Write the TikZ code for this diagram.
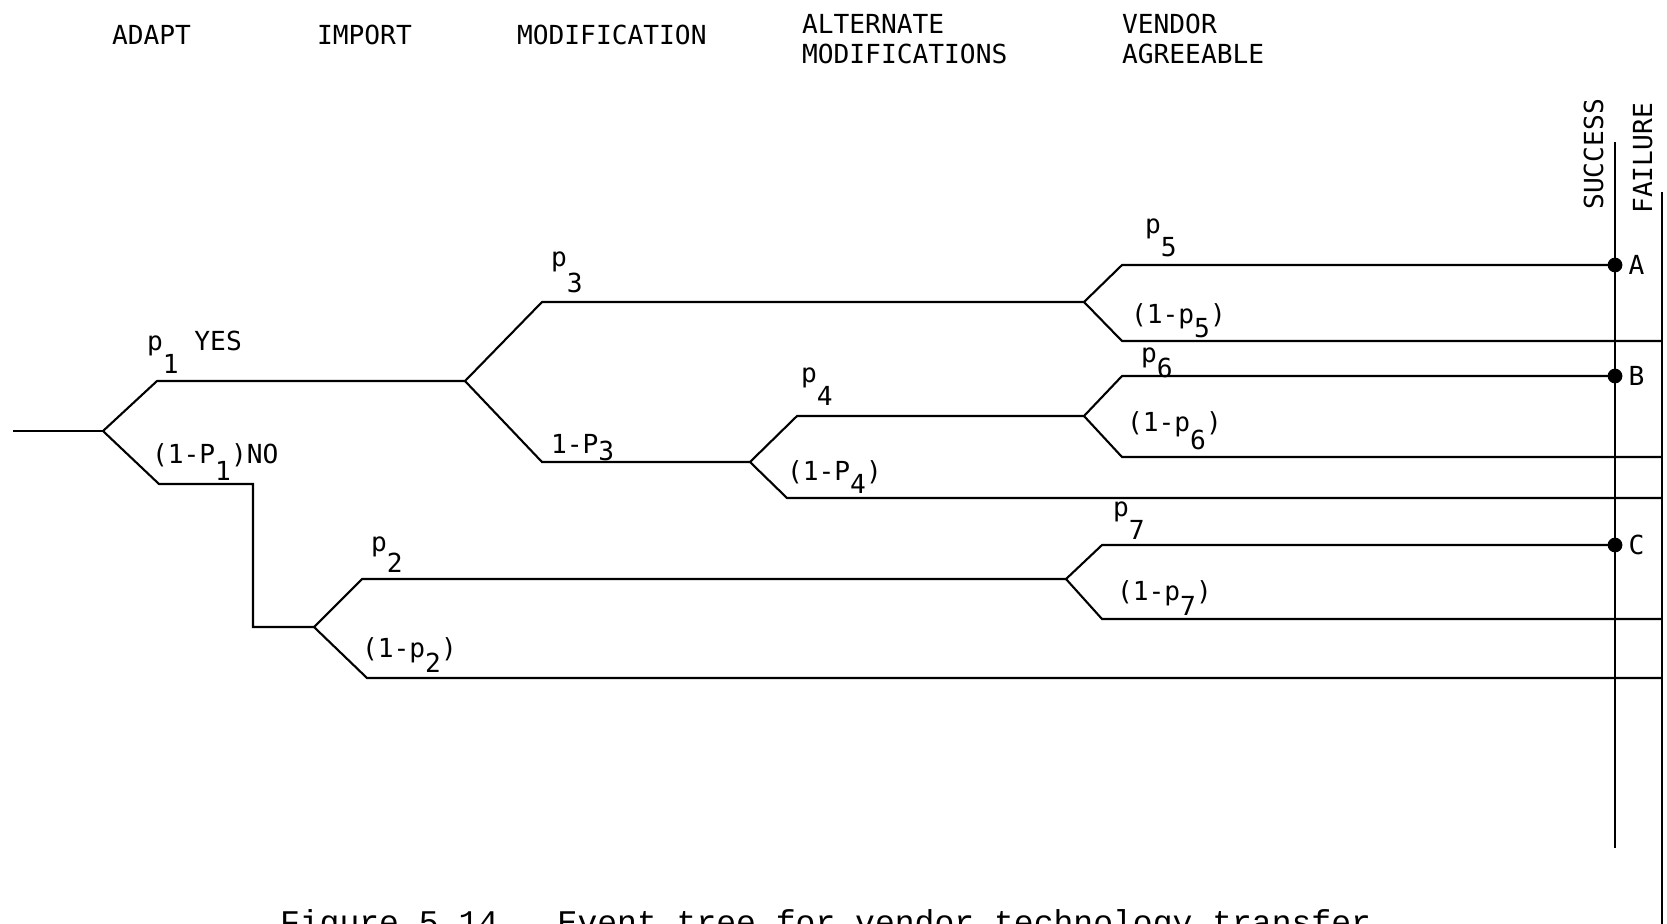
\documentclass[tikz,border=0pt]{standalone}
\usepackage{fontspec}
\usetikzlibrary{positioning}
\newfontfamily\treemono{DejaVu Sans Mono}
\newfontfamily\capmono{Liberation Mono}
\newcommand\dn[2][0.9em]{\raisebox{-#1}{#2}}
\tikzset{
treelbl/.style={
  font=\treemono\fontsize{7.46}{9}\selectfont,
  inner sep=0pt,
  anchor=base west
  },
treeend/.style={
  treelbl,
  anchor=west
  },
treeside/.style={
  treelbl,
  rotate=90,
  anchor=base east
  },
treedot/.style={
  circle,
  fill,
  inner sep=0pt,
  minimum size=4.2pt
  }
}

\begin{document}
\begin{tikzpicture}[x=0.01cm,y=-0.01cm,line width=0.6pt]
\useasboundingbox (0,0) rectangle (1667,923);
\clip (0,0) rectangle (1667,923);

% column heads
\node[treelbl] (adapt) at (111,44) {ADAPT};
\node[treelbl] (import) at (316,44) {IMPORT};
\node[treelbl] (modif) at (516,44) {MODIFICATION};
\node[treelbl] (alt) at (801,33) {ALTERNATE};
\node[treelbl] (altmod) at (801,63) {MODIFICATIONS};
\node[treelbl] (vendor) at (1121,33) {VENDOR};
\node[treelbl] (agree) at (1121,63) {AGREEABLE};
\node[treeside] (success) at (1603,98) {SUCCESS};
\node[treeside] (failure) at (1652,102) {FAILURE};

% junctions and ends
\coordinate (s0) at (13,431);
\coordinate (n1) at (103,431);
\coordinate (n2) at (314,627);
\coordinate (n3) at (465,381);
\coordinate (n4) at (750,462);
\coordinate (n5) at (1084,302);
\coordinate (n6) at (1084,416);
\coordinate (n7) at (1066,579);
\coordinate (A) at (1615,265);
\coordinate (B) at (1615,376);
\coordinate (C) at (1615,545);
\coordinate (f2) at (1662,678);
\coordinate (f4) at (1662,498);
\coordinate (f5) at (1662,341);
\coordinate (f6) at (1662,457);
\coordinate (f7) at (1662,619);
\coordinate (stop) at (1615,142);
\coordinate (sbot) at (1615,848);
\coordinate (ftop) at (1662,192);
\coordinate (fbot) at (1662,930);

% outcome lines
\draw (stop) -- (sbot);
\draw (ftop) -- (fbot);

% branches
\draw (s0) -- (n1);
\draw (n1) -- ++(54,-50) -- (n3);
\draw (n1) -- ++(56,53) -- ++(94,0) |- (n2);
\draw (n3) -- ++(77,-79) -- (n5);
\draw (n3) -- ++(77,81) -- (n4);
\draw (n4) -- ++(47,-46) -- (n6);
\draw (n4) -- ++(37,36) -- (f4);
\draw (n5) -- ++(38,-37) -- (A);
\draw (n5) -- ++(38,39) -- (f5);
\draw (n6) -- ++(38,-40) -- (B);
\draw (n6) -- ++(38,41) -- (f6);
\draw (n2) -- ++(48,-48) -- (n7);
\draw (n2) -- ++(53,51) -- (f2);
\draw (n7) -- ++(36,-34) -- (C);
\draw (n7) -- ++(36,40) -- (f7);

% branch labels
\node[treelbl] (yes1) at (146,350) {p\dn{1} YES};
\node[treelbl] (no1) at (151,463) {(1-P\dn[0.65em]{1})NO};
\node[treelbl] (yes2) at (370,551) {p\dn[0.8em]{2}};
\node[treelbl] (no2) at (361,657) {(1-p\dn[0.6em]{2})};
\node[treelbl] (yes3) at (550,266) {p\dn[1em]{3}};
\node[treelbl] (no3) at (550,453) {1-P\dn[0.3em]{3}};
\node[treelbl] (yes4) at (800,382) {p\dn{4}};
\node[treelbl] (no4) at (786,480) {(1-P\dn[0.5em]{4})};
\node[treelbl] (yes5) at (1144,233) {p\dn{5}};
\node[treelbl] (no5) at (1130,323) {(1-p\dn[0.55em]{5})};
\node[treelbl] (yes6) at (1140,362) {p\dn[0.6em]{6}};
\node[treelbl] (no6) at (1126,431) {(1-p\dn[0.7em]{6})};
\node[treelbl] (yes7) at (1112,516) {p\dn{7}};
\node[treelbl] (no7) at (1116,600) {(1-p\dn[0.6em]{7})};

% successful outcomes
\node[treedot] (dotA) at (A) {};
\node[treedot] (dotB) at (B) {};
\node[treedot] (dotC) at (C) {};
\node[treeend,right=1.2pt of dotA] (endA) {A};
\node[treeend,right=1.2pt of dotB] (endB) {B};
\node[treeend,right=1.2pt of dotC] (endC) {C};

% caption, cut by the page edge
\node[font=\capmono\fontsize{9.4}{11}\selectfont,inner sep=0pt,anchor=base west]
  (caption) at (279,933) {Figure 5.14.\ \ Event tree for vendor technology transfer};
\end{tikzpicture}
\end{document}
